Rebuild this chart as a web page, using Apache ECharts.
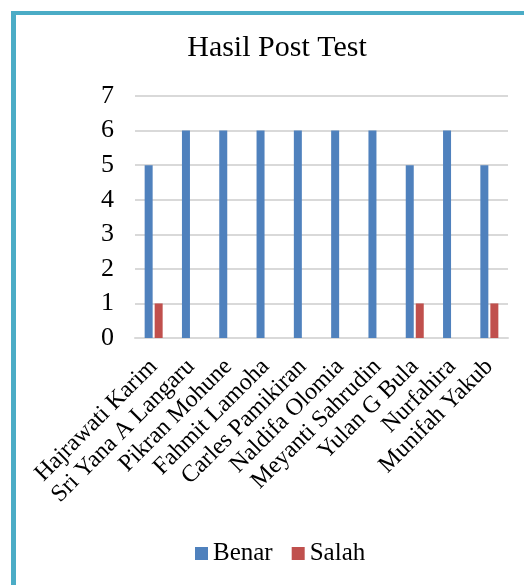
<!DOCTYPE html>
<html>
<head>
<meta charset="utf-8">
<script src="https://cdn.jsdelivr.net/npm/echarts@6/dist/echarts.min.js"></script>
<style>
  html, body { margin: 0; padding: 0; background: #fff; }
  #chart { width: 524px; height: 585px; }
</style>
</head>
<body>
<div id="chart"></div>
<script>
var names = ['Hajrawati Karim', 'Sri Yana A Langaru', 'Pikran Mohune', 'Fahmit Lamoha',
  'Carles Pamikiran', 'Naldifa Olomia', 'Meyanti Sahrudin', 'Yulan G Bula', 'Nurfahira', 'Munifah Yakub']
var benar = [5, 6, 6, 6, 6, 6, 6, 5, 6, 5]
var salah = [1, 0, 0, 0, 0, 0, 0, 1, 0, 1]

var font = 'Liberation Serif'
var chart = echarts.init(document.getElementById('chart'))
chart.setOption({
  backgroundColor: '#fff',
  animation: false,
  title: {
    text: 'Hasil Post Test',
    left: 272,
    textAlign: 'center',
    top: 28,
    textStyle: { fontFamily: font, fontSize: 30, fontWeight: 'normal', color: '#000' }
  },
  graphic: [
    { type: 'rect', shape: { x: 11, y: 11, width: 5, height: 574 }, style: { fill: '#4bacc6' } },
    { type: 'rect', shape: { x: 11, y: 11, width: 513, height: 4 }, style: { fill: '#4bacc6' } }
  ],
  legend: {
    top: 536,
    left: 190,
    itemWidth: 13,
    itemHeight: 13,
    itemGap: 19,
    icon: 'rect',
    textStyle: { fontFamily: font, fontSize: 25, color: '#000' },
    data: ['Benar', 'Salah']
  },
  grid: { left: 135, right: 16, top: 96, bottom: 247 },
  xAxis: {
    type: 'category',
    data: names,
    axisLine: { lineStyle: { color: '#d9d9d9', width: 2 } },
    axisTick: { show: false },
    axisLabel: {
      interval: 0,
      rotate: 45,
      margin: 25,
      fontFamily: font,
      fontSize: 24,
      color: '#000'
    }
  },
  yAxis: {
    type: 'value',
    min: 0,
    max: 7,
    interval: 1,
    axisLine: { show: false },
    axisTick: { show: false },
    splitLine: { lineStyle: { color: '#d9d9d9', width: 2 } },
    axisLabel: { margin: 21, fontFamily: font, fontSize: 26, color: '#000' }
  },
  series: [
    { name: 'Benar', type: 'bar', data: benar, barWidth: 8, barGap: '25%', itemStyle: { color: '#4f81bd' } },
    { name: 'Salah', type: 'bar', data: salah, barWidth: 8, itemStyle: { color: '#c0504d' } }
  ]
})
</script>
</body>
</html>
